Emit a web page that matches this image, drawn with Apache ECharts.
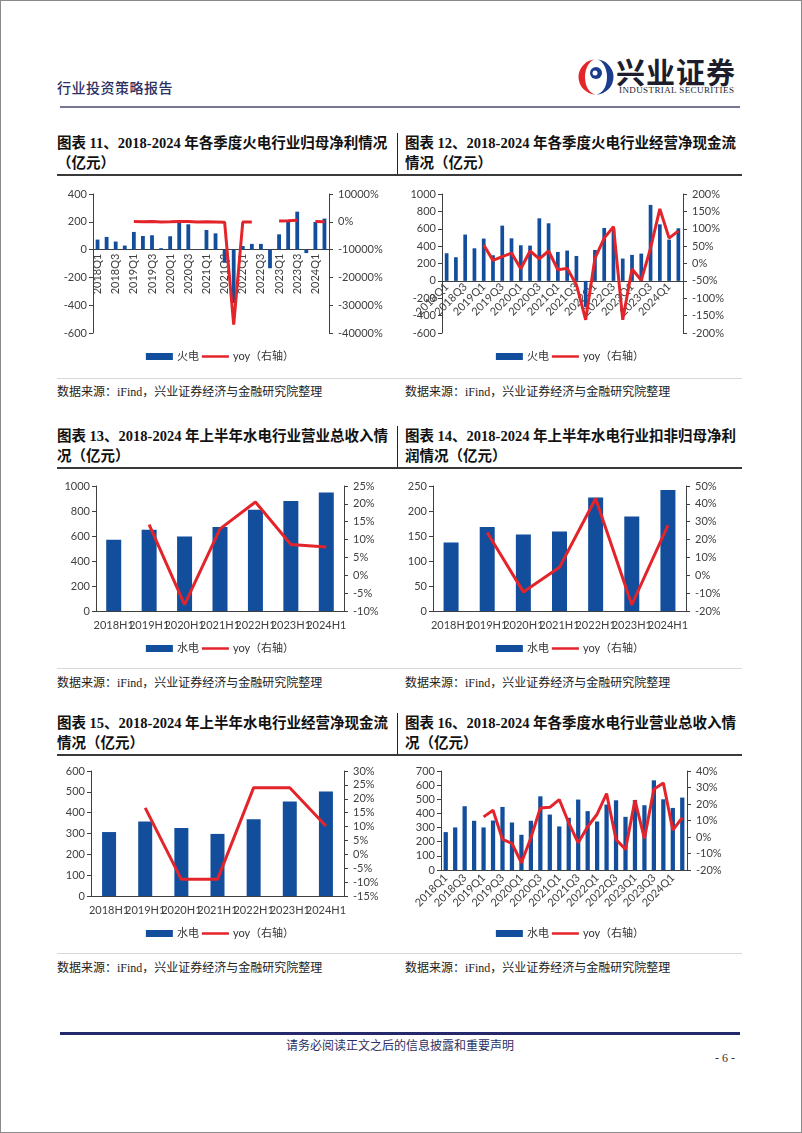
<!DOCTYPE html>
<html><head><meta charset="utf-8">
<script src="https://cdn.jsdelivr.net/npm/echarts@6/dist/echarts.min.js"></script>
<style>
html,body{margin:0;padding:0;background:#fff;}
body{width:802px;height:1133px;position:relative;overflow:hidden;font-family:"Noto Sans CJK SC",sans-serif;}
.abs{position:absolute;}
.frame{left:0;top:0;width:800px;height:1131px;border:1px solid #8a8a8a;}
.hdr{left:57px;top:77px;font-size:14px;color:#2b2f63;letter-spacing:0.5px;font-weight:500;}
.hline{left:60px;top:106px;width:680px;height:2px;background:#767893;}
.t{font-family:"Liberation Serif","Noto Sans CJK SC",serif;font-weight:bold;font-size:14.5px;color:#111;white-space:nowrap;line-height:18px;}
.tl{height:2px;background:#3a3a3a;left:57px;width:685px;}
.vd{width:1px;background:#222;left:397px;}
.src{font-family:"Liberation Serif","Noto Sans CJK SC",serif;font-size:12px;color:#222;white-space:nowrap;line-height:16px;}
.sl{height:1px;background:#d8d8d8;left:57px;width:685px;}
.chart{width:340px;height:200px;}
.fline{left:60px;top:1032px;width:680px;height:3px;background:#25286a;}
.ftxt{left:274px;top:1036px;width:252px;text-align:center;font-size:12px;color:#2b2f63;font-family:"Liberation Serif","Noto Sans CJK SC",serif;}
.pg{left:715px;top:1051px;font-size:12px;color:#333;font-family:"Liberation Serif",serif;}
</style></head>
<body>
<div class="abs frame"></div>
<div class="abs hdr">行业投资策略报告</div>
<svg class="abs" style="left:577px;top:58px" width="38" height="38" viewBox="0 0 38 38">
  <path d="M19,1.5 A17.5,17.5 0 0,0 19,36.5 A11,17.5 0 0,1 19,1.5 Z" fill="#E4262B"/>
  <path d="M19,36.5 A17.5,17.5 0 0,0 19,1.5 A11,17.5 0 0,1 19,36.5 Z" fill="#1B3C8C"/>
  <circle cx="19" cy="15" r="6" fill="#1B3C8C"/>
  <circle cx="18" cy="15" r="2.5" fill="#fff"/>
</svg>
<div class="abs" style="left:616px;top:55px;font-size:29px;font-weight:bold;color:#1d1d2b;letter-spacing:1px;line-height:32px;">兴业证券</div>
<div class="abs" style="left:619px;top:86px;font-size:9px;color:#1d1d2b;font-family:'Liberation Serif',serif;letter-spacing:0.4px;line-height:9px;">INDUSTRIAL SECURITIES</div>
<div class="abs hline"></div>

<!-- section 1 -->
<div class="abs t" style="left:57px;top:134px;">图表 11、2018-2024 年各季度火电行业归母净利情况</div>
<div class="abs t" style="left:57px;top:154px;">（亿元）</div>
<div class="abs t" style="left:405px;top:134px;">图表 12、2018-2024 年各季度火电行业经营净现金流</div>
<div class="abs t" style="left:405px;top:154px;">情况（亿元）</div>
<div class="abs vd" style="top:133px;height:41px;"></div>
<div class="abs tl" style="top:174px;"></div>
<div id="c11" class="abs chart" style="left:50px;top:175px;"></div>
<div id="c12" class="abs chart" style="left:400px;top:175px;"></div>
<div class="abs sl" style="top:378px;"></div>
<div class="abs src" style="left:57px;top:384px;">数据来源：iFind，兴业证券经济与金融研究院整理</div>
<div class="abs src" style="left:405px;top:384px;">数据来源：iFind，兴业证券经济与金融研究院整理</div>

<!-- section 2 -->
<div class="abs t" style="left:57px;top:427px;">图表 13、2018-2024 年上半年水电行业营业总收入情</div>
<div class="abs t" style="left:57px;top:447px;">况（亿元）</div>
<div class="abs t" style="left:405px;top:427px;">图表 14、2018-2024 年上半年水电行业扣非归母净利</div>
<div class="abs t" style="left:405px;top:447px;">润情况（亿元）</div>
<div class="abs vd" style="top:426px;height:41px;"></div>
<div class="abs tl" style="top:467px;"></div>
<div id="c13" class="abs chart" style="left:50px;top:470px;"></div>
<div id="c14" class="abs chart" style="left:400px;top:470px;"></div>
<div class="abs sl" style="top:668px;"></div>
<div class="abs src" style="left:57px;top:675px;">数据来源：iFind，兴业证券经济与金融研究院整理</div>
<div class="abs src" style="left:405px;top:675px;">数据来源：iFind，兴业证券经济与金融研究院整理</div>

<!-- section 3 -->
<div class="abs t" style="left:57px;top:714px;">图表 15、2018-2024 年上半年水电行业经营净现金流</div>
<div class="abs t" style="left:57px;top:734px;">情况（亿元）</div>
<div class="abs t" style="left:405px;top:714px;">图表 16、2018-2024 年各季度水电行业营业总收入情</div>
<div class="abs t" style="left:405px;top:734px;">况（亿元）</div>
<div class="abs vd" style="top:713px;height:41px;"></div>
<div class="abs tl" style="top:754px;"></div>
<div id="c15" class="abs chart" style="left:50px;top:755px;"></div>
<div id="c16" class="abs chart" style="left:400px;top:755px;"></div>
<div class="abs sl" style="top:953px;"></div>
<div class="abs src" style="left:57px;top:960px;">数据来源：iFind，兴业证券经济与金融研究院整理</div>
<div class="abs src" style="left:405px;top:960px;">数据来源：iFind，兴业证券经济与金融研究院整理</div>

<div class="abs fline"></div>
<div class="abs ftxt">请务必阅读正文之后的信息披露和重要声明</div>
<div class="abs pg">- 6 -</div>

<script>
// ---------- data ----------
const quarters = ['2018Q1','2018Q2','2018Q3','2018Q4','2019Q1','2019Q2','2019Q3','2019Q4',
  '2020Q1','2020Q2','2020Q3','2020Q4','2021Q1','2021Q2','2021Q3','2021Q4',
  '2022Q1','2022Q2','2022Q3','2022Q4','2023Q1','2023Q2','2023Q3','2023Q4','2024Q1','2024Q2'];
const halves = ['2018H1','2019H1','2020H1','2021H1','2022H1','2023H1','2024H1'];

// 图表11 火电归母净利（亿元）及yoy（%）
const thermalProfit = [72,91,58,29,127,98,103,10,96,199,182,2,141,117,-95,-385,26,41,41,-134,110,199,273,-25,199,223];
const thermalProfitYoy = [null,null,null,null,76,8,77,-66,-24,104,77,-80,47,-36,-152,-37000,-88,-66,null,null,300,380,560,null,80,12];
// 图表12 火电经营净现金流
const thermalCash = [318,272,533,375,487,295,636,490,410,406,720,663,333,349,287,-300,356,609,601,257,299,314,874,651,475,605];
const thermalCashYoy = [null,null,null,null,53,9,20,30,-15,36,13,36,-18,-14,-61,-162,15,73,106,-162,-16,-48,44,157,73,94];
// 图表13 水电上半年营业总收入
const hydroRevH1 = [571,651,597,672,811,880,949];
const hydroRevH1Yoy = [null,14.2,-8.2,13.0,20.5,8.6,7.9];
// 图表14 水电上半年扣非归母净利
const hydroProfitH1 = [137,168,153,159,227,189,242];
const hydroProfitH1Yoy = [null,24.0,-9.3,4.5,43.0,-16.5,28.0];
// 图表15 水电上半年经营净现金流
const hydroCashH1 = [307,358,326,298,368,454,502];
const hydroCashH1Yoy = [null,16.7,-9.0,-9.0,24.0,24.0,10.2];
// 图表16 水电各季度营业总收入
const hydroRevQ = [268,301,451,348,301,350,446,336,249,348,521,392,308,369,498,416,343,463,493,376,495,458,634,500,439,512];
const hydroRevQYoy = [null,null,null,null,12.2,16.2,-1.5,-3.9,-15.6,-0.5,17.6,18.0,22.7,8.6,-3.5,6.2,13.8,26.3,-1.5,-7.5,22.3,-1.0,29.0,32.7,4.2,11.8];

// axis ranges [min, max, interval]
const ax11 = [[-600,400,200],[-40000,10000,10000]];
const ax12 = [[-600,1000,200],[-200,200,50]];
const ax13 = [[0,1000,200],[-10,25,5]];
const ax14 = [[0,250,50],[-20,50,10]];
const ax15 = [[0,600,100],[-15,30,5]];
const ax16 = [[0,700,100],[-20,40,10]];

const FONT = "Lato, 'Noto Sans CJK SC', sans-serif";
const BLUE = '#124E9C', RED = '#E3242B', AX = '#404040';
// thin horizontal bar as the line-legend icon (bbox 30x7, band in the middle)
const LINE_ICON = 'path://M0,0L30,0L30,0Z M0,2L30,2L30,5L0,5Z M0,7L30,7L30,7Z';

function make(id, o) {
  const ch = echarts.init(document.getElementById(id));
  const H = 200;
  const plotH = H - o.grid[2] - o.grid[3];
  const r0 = o.ax[0];
  const zeroFrac = (0 - r0[0]) / (r0[1] - r0[0]);
  const xOffset = -zeroFrac * plotH;
  const yAx = (r, pos, pct, margin) => ({
    type: 'value', position: pos, min: r[0], max: r[1], interval: r[2],
    axisLine: {show: true, lineStyle: {color: AX, width: 1}},
    axisTick: {show: true, length: 4, lineStyle: {color: AX}},
    splitLine: {show: false},
    axisLabel: {color: AX, fontSize: 11, fontFamily: FONT, margin: margin,
      formatter: v => pct ? (String(v) + '%') : String(v)}
  });
  ch.setOption({
    animation: false,
    textStyle: {fontFamily: FONT},
    grid: {left: o.grid[0], right: o.grid[1], top: o.grid[2], bottom: o.grid[3]},
    legend: {
      top: o.legendTop, left: 'center', padding: 0, itemGap: 3,
      itemWidth: 27, itemHeight: 7,
      textStyle: {color: '#333', fontSize: 11, fontFamily: FONT, padding: [0, 0, 0, -1]},
      data: [{name: o.barName, icon: 'rect'}, {name: 'yoy（右轴）', icon: LINE_ICON}]
    },
    xAxis: {
      type: 'category', data: o.cats,
      offset: xOffset,
      axisLine: {onZero: false, lineStyle: {color: AX, width: 1}},
      axisTick: {show: false},
      axisLabel: {interval: o.labelInterval, rotate: o.rotate, color: AX, fontSize: 11,
        fontFamily: FONT, margin: o.labelMargin}
    },
    yAxis: [yAx(o.ax[0], 'left', false, 6), yAx(o.ax[1], 'right', true, 9)],
    series: [
      {type: 'bar', name: o.barName, data: o.bars, barWidth: o.barWidth,
        itemStyle: {color: BLUE}},
      {type: 'line', name: 'yoy（右轴）', yAxisIndex: 1, data: o.yoy, symbol: 'none',
        connectNulls: false, z: 5,
        lineStyle: {color: RED, width: 3}, itemStyle: {color: RED}}
    ]
  });
}

make('c11', {cats: quarters, bars: thermalProfit, yoy: thermalProfitYoy, ax: ax11, barName: '火电',
  grid: [43, 61, 19, 42], legendTop: 176, labelInterval: 1, rotate: 90, labelMargin: 4, barWidth: '42%'});
make('c12', {cats: quarters, bars: thermalCash, yoy: thermalCashYoy, ax: ax12, barName: '火电',
  grid: [42, 57, 19, 42], legendTop: 176, labelInterval: 1, rotate: 45, labelMargin: 4, barWidth: '40%'});
make('c13', {cats: halves, bars: hydroRevH1, yoy: hydroRevH1Yoy, ax: ax13, barName: '水电',
  grid: [46, 46, 16, 59], legendTop: 173, labelInterval: 0, rotate: 0, labelMargin: 9, barWidth: 15});
make('c14', {cats: halves, bars: hydroProfitH1, yoy: hydroProfitH1Yoy, ax: ax14, barName: '水电',
  grid: [33, 54, 16, 59], legendTop: 173, labelInterval: 0, rotate: 0, labelMargin: 9, barWidth: 15});
make('c15', {cats: halves, bars: hydroCashH1, yoy: hydroCashH1Yoy, ax: ax15, barName: '水电',
  grid: [41, 46, 16, 59], legendTop: 173, labelInterval: 0, rotate: 0, labelMargin: 9, barWidth: 14});
make('c16', {cats: quarters, bars: hydroRevQ, yoy: hydroRevQYoy, ax: ax16, barName: '水电',
  grid: [41, 53, 16, 85], legendTop: 173, labelInterval: 1, rotate: 45, labelMargin: 6, barWidth: '45%'});
</script>
</body></html>
